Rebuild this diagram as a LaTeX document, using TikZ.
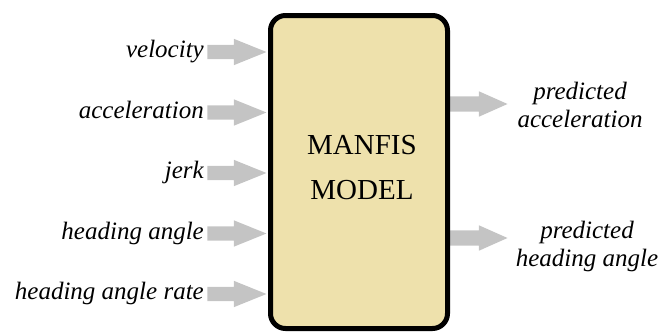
\documentclass[tikz,border=0pt]{standalone}
\usepackage{fontspec}
\setmainfont{Liberation Serif}
\usetikzlibrary{shapes.arrows}
\definecolor{boxfill}{RGB}{238,225,172}
\definecolor{arrowgray}{RGB}{196,196,196}
\begin{document}
\begin{tikzpicture}[x=1pt,y=-1pt,
  lbl/.style={font=\fontsize{25}{28}\selectfont\itshape, inner sep=0pt, text=black},
  inarrow/.style={single arrow, fill=arrowgray, draw=none, minimum height=59pt,
    inner xsep=0pt, inner ysep=7pt, single arrow head extend=6pt,
    single arrow tip angle=44, anchor=tip},
  outarrow/.style={single arrow, fill=arrowgray, draw=none, minimum height=58pt,
    inner xsep=0pt, inner ysep=7.5pt, single arrow head extend=5pt,
    single arrow tip angle=48, anchor=tip},
  modelbox/.style={draw=black, line width=5pt, fill=boxfill, rounded corners=15pt,
    minimum width=177pt, minimum height=313pt, inner sep=0pt},
  title/.style={font=\fontsize{29}{45}\selectfont, align=center, inner sep=0pt}
]
\useasboundingbox (0,0) rectangle (659,332);

% input labels
\node[lbl, anchor=base east] (lv) at (204,57.5) {velocity};
\node[lbl, anchor=base east] (la) at (204,118) {acceleration};
\node[lbl, anchor=base east] (lj) at (204,178.5) {jerk};
\node[lbl, anchor=base east] (lh) at (204,239) {heading angle};
\node[lbl, anchor=base east] (lr) at (204,299.5) {heading angle rate};

% output arrows (under the box border)
\node[outarrow] (o1) at (508,104) {};
\node[outarrow] (o2) at (508,238) {};

% model box
\node[modelbox] (box) at (359,172) {};
\node[title] (t) at (362,168) {MANFIS\\MODEL};

% input arrows
\node[inarrow] (i1) at (267,52) {};
\node[inarrow] (i2) at (267,112.5) {};
\node[inarrow] (i3) at (267,173) {};
\node[inarrow] (i4) at (267,233.5) {};
\node[inarrow] (i5) at (267,294) {};

% output labels
\node[lbl, align=center] (p1) at (580,104.5) {predicted\\acceleration};
\node[lbl, align=center] (p2) at (587,246) {predicted\\heading angle};
\end{tikzpicture}
\end{document}
